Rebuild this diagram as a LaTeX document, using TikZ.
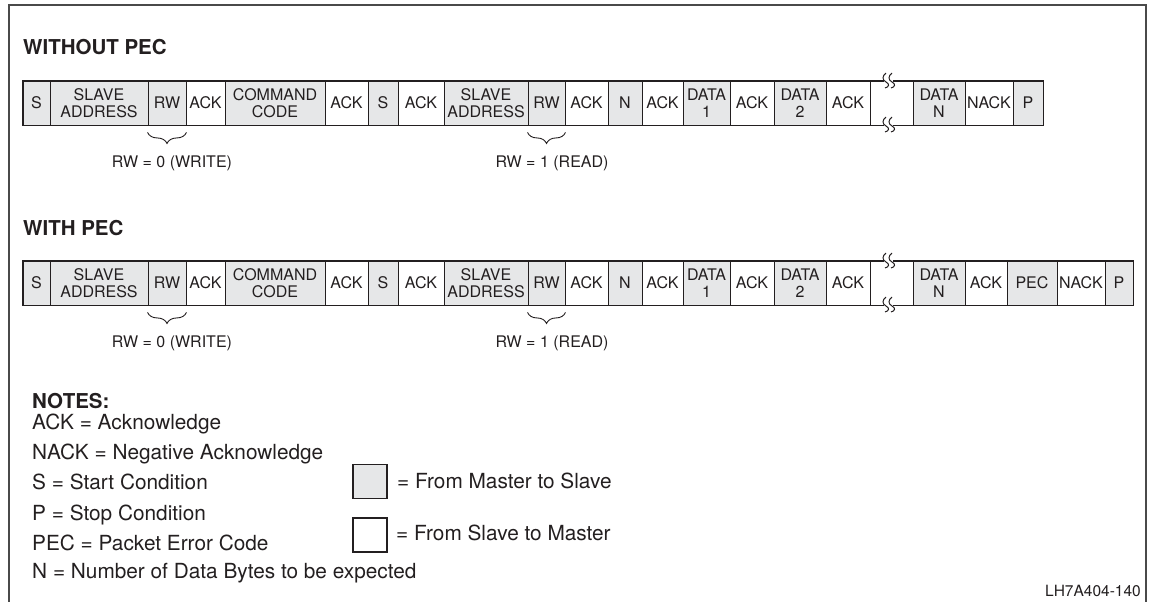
\documentclass[tikz,border=0pt]{standalone}
\usepackage{fontspec}
\setmainfont{TeX Gyre Heros}
\usetikzlibrary{decorations.pathreplacing}
\definecolor{msgrey}{HTML}{E6E7E8}
\definecolor{linec}{HTML}{231F20}
\definecolor{textc}{HTML}{231F20}
\definecolor{framec}{HTML}{4A4A4A}
\tikzset{
  cell/.style={draw=linec, line width=0.9pt, minimum height=44pt, inner sep=0pt, align=center, text=textc,
    font={\fontsize{16}{16.5}\selectfont}},
  ms/.style={cell, fill=msgrey},
  sm/.style={cell, fill=white},
  outline/.style={draw=linec, line width=1.8pt},
  title/.style={anchor=base west, inner sep=0pt, text=textc, font={\fontsize{20.5}{24}\selectfont\bfseries}},
  note/.style={anchor=base west, inner sep=0pt, text=textc, font={\fontsize{20.8}{24}\selectfont}},
  lbl/.style={inner sep=0pt, text=textc, font={\fontsize{16}{18}\selectfont}},
  rwbrace/.style={draw=linec, line width=0.9pt, decorate, decoration={brace, amplitude=11pt}},
  legendbox/.style={draw=linec, line width=1.3pt, minimum width=34pt, minimum height=34pt, inner sep=0pt},
  brk/.pic={
    \fill[white] (-4,-4) rectangle (5,4);
    \draw[linec, line width=1pt] (-2,-8) .. controls (-6,-5) and (-6,-1) .. (-2,1) .. controls (2,3) and (1,6) .. (-3,7);
    \draw[linec, line width=1pt] (4,-8) .. controls (0,-5) and (0,-1) .. (4,1) .. controls (8,3) and (7,6) .. (3,7);
  },
}
\begin{document}
\begin{tikzpicture}[x=1pt, y=-1pt]
\useasboundingbox (0,0) rectangle (1149,602);
% frame
\draw[framec, line width=1.3pt] (9,602) -- (9,5) -- (1146,5) -- (1146,602);

% ---------- WITHOUT PEC ----------
\node[title] (t1) at (23,55) {WITHOUT PEC};
\foreach \n/\c/\w/\f/\t in {
  s/36.5/27/ms/S, sa/99/98/ms/{SLAVE\\ADDRESS}, rw/167/38/ms/RW, ack/205.5/39/sm/ACK,
  cc/275/100/ms/{COMMAND\\CODE}, ackb/346.5/43/sm/ACK, sr/383/30/ms/S, ackc/421/46/sm/ACK,
  sab/486/84/ms/{SLAVE\\ADDRESS}, rwb/546.5/37/ms/RW, ackd/586.5/43/sm/ACK, n/625/34/ms/N,
  acke/662.5/41/sm/ACK, da/706.5/47/ms/{DATA\\1}, ackf/752/44/sm/ACK, db/800/52/ms/{DATA\\2},
  ackg/848/44/sm/ACK, gap/891.5/43/sm/{}, dn/939/52/ms/{DATA\\N}, nack/989/48/sm/NACK, p/1028/30/ms/P}
  {\node[\f, minimum width=\w pt] (a\n) at (\c,103) {\t};}
\draw[outline] (as.north west) rectangle (ap.south east);
\pic at (888,81) {brk};
\pic at (888,125) {brk};
\draw[rwbrace] ([yshift=-7pt]arw.south east) -- ([yshift=-7pt]arw.south west);
\draw[rwbrace] ([yshift=-7pt]arwb.south east) -- ([yshift=-7pt]arwb.south west);
\node[lbl] (aw) at (172,163) {RW = 0 (WRITE)};
\node[lbl] (ar) at (552,163) {RW = 1 (READ)};

% ---------- WITH PEC ----------
\node[title] (t2) at (23,235) {WITH PEC};
\foreach \n/\c/\w/\f/\t in {
  s/36.5/27/ms/S, sa/99/98/ms/{SLAVE\\ADDRESS}, rw/167/38/ms/RW, ack/205.5/39/sm/ACK,
  cc/275/100/ms/{COMMAND\\CODE}, ackb/346.5/43/sm/ACK, sr/383/30/ms/S, ackc/421/46/sm/ACK,
  sab/486/84/ms/{SLAVE\\ADDRESS}, rwb/546.5/37/ms/RW, ackd/586.5/43/sm/ACK, n/625/34/ms/N,
  acke/662.5/41/sm/ACK, da/706.5/47/ms/{DATA\\1}, ackf/752/44/sm/ACK, db/800/52/ms/{DATA\\2},
  ackg/848/44/sm/ACK, gap/891.5/43/sm/{}, dn/939/52/ms/{DATA\\N}, ackh/986/42/sm/ACK,
  pec/1032/50/ms/PEC, nack/1081/48/sm/NACK, p/1119/28/ms/P}
  {\node[\f, minimum width=\w pt] (b\n) at (\c,283) {\t};}
\draw[outline] (bs.north west) rectangle (bp.south east);
\pic at (888,261) {brk};
\pic at (888,305) {brk};
\draw[rwbrace] ([yshift=-7pt]brw.south east) -- ([yshift=-7pt]brw.south west);
\draw[rwbrace] ([yshift=-7pt]brwb.south east) -- ([yshift=-7pt]brwb.south west);
\node[lbl] (bw) at (172,343) {RW = 0 (WRITE)};
\node[lbl] (br) at (552,343) {RW = 1 (READ)};

% ---------- NOTES ----------
\node[note, font={\fontsize{20.5}{24}\selectfont\bfseries}] (notes) at (32,408) {NOTES:};
\node[note] (n1) at (32,429) {ACK = Acknowledge};
\node[note] (n2) at (32,459) {NACK = Negative Acknowledge};
\node[note] (n3) at (32,489) {S = Start Condition};
\node[note] (n4) at (32,520) {P = Stop Condition};
\node[note] (n5) at (32,550) {PEC = Packet Error Code};
\node[note] (n6) at (32,578) {N = Number of Data Bytes to be expected};

\node[legendbox, fill=msgrey] (lgm) at (370,481.5) {};
\node[legendbox, fill=white] (lgs) at (370,535) {};
\node[note] (lgmt) at (397,488) {= From Master to Slave};
\node[note] (lgst) at (396,540) {= From Slave to Master};

\node[lbl, anchor=base east, font={\fontsize{15.5}{18}\selectfont}] (code) at (1141,596) {LH7A404-140};
\end{tikzpicture}
\end{document}
